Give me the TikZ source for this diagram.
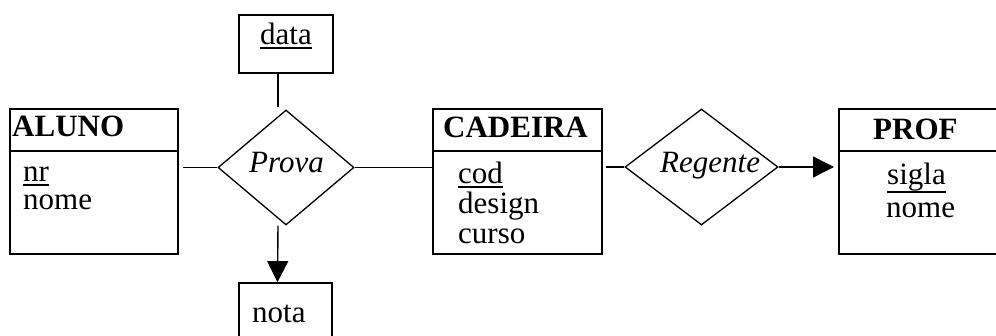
\documentclass[tikz,border=0pt]{standalone}
\usepackage{fontspec}
\setmainfont{Liberation Serif}
\usetikzlibrary{shapes.geometric,arrows.meta}
\newcommand\ulin[2][3.7pt]{\setbox0\hbox{#2}\rlap{\rule[-#1]{\wd0}{1.4pt}}\box0}
\tikzset{
  entbox/.style={draw, line width=2pt, rectangle, inner sep=0pt},
  attbox/.style={draw, line width=1.8pt, rectangle, inner sep=0pt},
  relshape/.style={draw, line width=1.3pt, diamond, inner sep=0pt},
  lbl/.style={inner sep=0pt, anchor=base west, font=\fontsize{31}{31}\selectfont},
  divline/.style={line width=1.5pt},
  conn/.style={line width=1.4pt},
  arr/.style={line width=1.4pt, -{Triangle[length=21pt,width=21pt]}}
}
\begin{document}
\begin{tikzpicture}[x=1pt,y=-1pt]
\useasboundingbox (0,0) rectangle (996,336);
\clip (0,0) rectangle (996,336);
% entity boxes
\node[entbox, minimum width=168pt, minimum height=145pt] (aluno) at (94,181.5) {};
\node[entbox, minimum width=169pt, minimum height=145pt] (cadeira) at (517.5,181.5) {};
\node[entbox, minimum width=161pt, minimum height=145pt] (prof) at (919.5,181.5) {};
\draw[divline] ([yshift=-43pt]aluno.north west) -- ([yshift=-43pt]aluno.north east);
\draw[divline] ([yshift=-43pt]cadeira.north west) -- ([yshift=-43pt]cadeira.north east);
\draw[divline] ([yshift=-43pt]prof.north west) -- ([yshift=-43pt]prof.north east);
% attribute boxes
\node[attbox, minimum width=94pt, minimum height=58pt] (data) at (286,44) {};
\node[attbox, minimum width=93pt, minimum height=62pt] (nota) at (285.5,314) {};
% relationships
\node[relshape, minimum width=136pt, minimum height=115pt] (prova) at (286,167.5) {};
\node[relshape, minimum width=153pt, minimum height=116pt] (regente) at (701.5,167) {};
% labels
\node[lbl, font=\fontsize{31}{31}\selectfont\bfseries] (alunot) at (12,137) {ALUNO};
\node[lbl] (nrt) at (23,182) {\ulin{nr}};
\node[lbl] (nomet) at (23,210) {nome};
\node[lbl, anchor=base] (datat) at (286,45) {\ulin{data}};
\node[lbl, anchor=base, font=\fontsize{31}{31}\selectfont\itshape] (provat) at (286.5,173) {Prova};
\node[lbl] (notat) at (252,323) {nota};
\node[lbl, font=\fontsize{31}{31}\selectfont\bfseries] (cadeirat) at (443,138) {CADEIRA};
\node[lbl] (codt) at (458,184) {\ulin{cod}};
\node[lbl] (designt) at (458,214) {design};
\node[lbl] (cursot) at (458,244) {curso};
\node[lbl, font=\fontsize{31}{31}\selectfont\itshape] (regentet) at (660,173) {Regente};
\node[lbl, font=\fontsize{31}{31}\selectfont\bfseries] (proft) at (873,140) {PROF};
\node[lbl] (siglat) at (887,185) {\ulin[7.7pt]{sigla}};
\node[lbl] (nome2t) at (886,218) {nome};
% connectors
\draw[conn, shorten <=4pt] (prova.west -| aluno.east) -- (prova.west);
\draw[conn] (prova.east) -- (prova.east -| cadeira.west);
\draw[conn, shorten <=3pt] (regente.west -| cadeira.east) -- (regente.west);
\draw[arr, shorten >=4pt] (regente.east) -- (regente.east -| prof.west);
\draw[conn, shorten >=2pt] ([xshift=-8pt]data.south) -- ([xshift=-8pt]prova.north);
\draw[arr] ([xshift=-8pt]prova.south) -- ([xshift=-8pt]nota.north);
\end{tikzpicture}
\end{document}
